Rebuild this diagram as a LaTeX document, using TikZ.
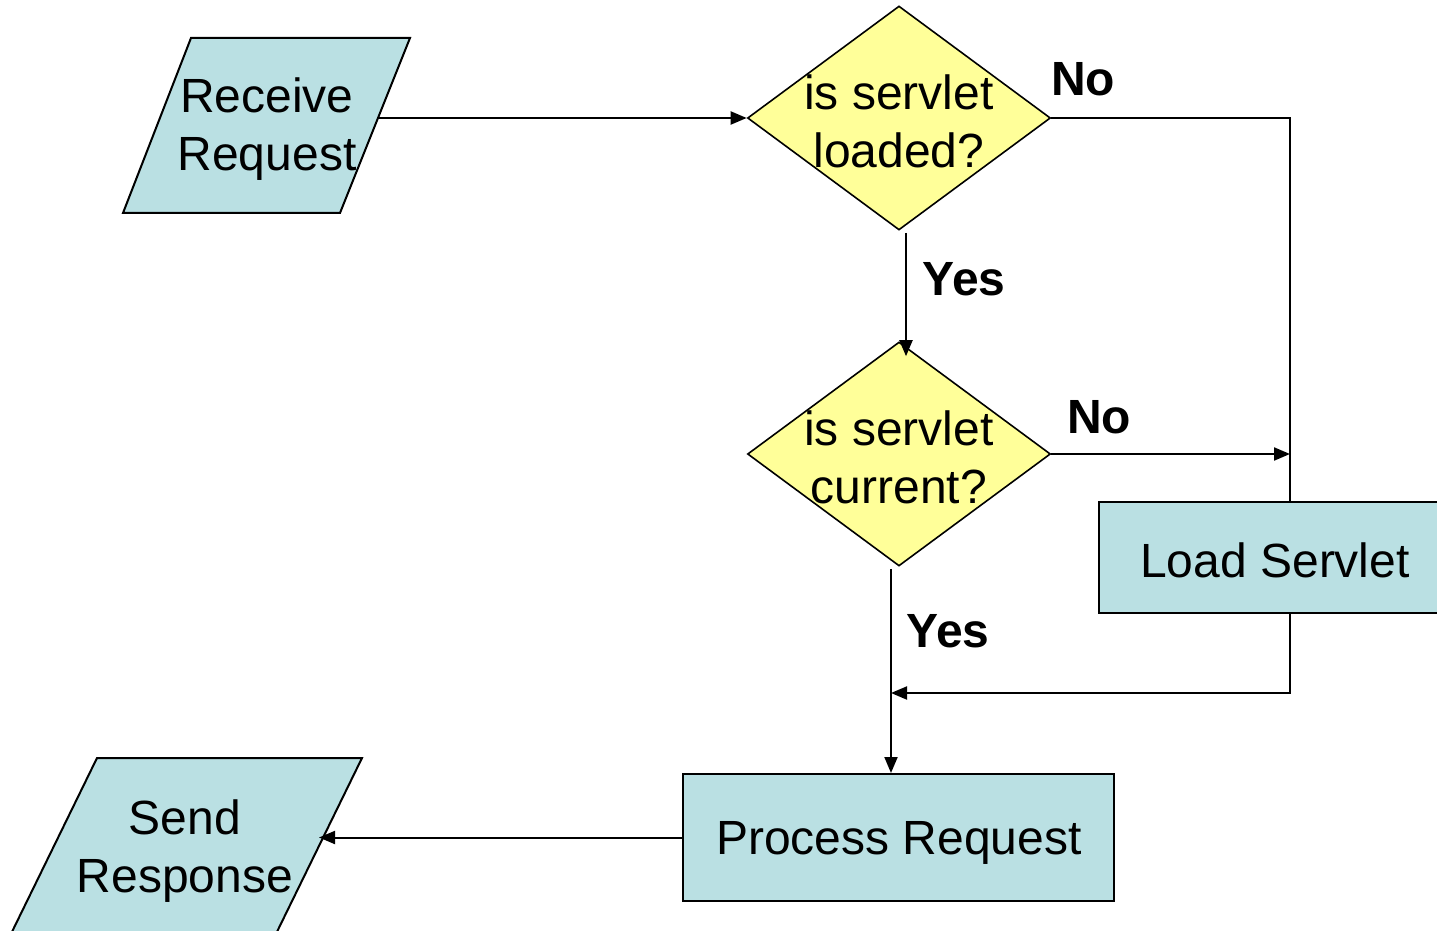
\documentclass[tikz,border=0pt]{standalone}
\usepackage{fontspec}
\setmainfont{Liberation Sans}
\usetikzlibrary{shapes.geometric,arrows.meta,calc}
\definecolor{boxblue}{RGB}{186,224,227}
\definecolor{decyellow}{RGB}{255,255,153}
\begin{document}
\begin{tikzpicture}[x=0.5pt,y=-0.5pt,
  txt/.style={align=center,inner sep=0pt,font=\fontsize{24}{29}\selectfont},
  lbl/.style={inner sep=0pt,font=\fontsize{24}{28}\selectfont\bfseries},
  decbox/.style={diamond,draw=black,line width=0.8pt,fill=decyellow,inner sep=0pt,minimum width=151.5pt,minimum height=112pt},
  procbox/.style={rectangle,draw=black,line width=1pt,fill=boxblue,inner sep=0pt},
  iofill/.style={draw=black,line width=1pt,fill=boxblue},
  conn/.style={line width=1pt},
  arr/.style={conn,-{Triangle[length=8pt,width=6.5pt]}}]
\useasboundingbox (0,0) rectangle (1437,931);
\clip (0,0) rectangle (1437,931);
% input/output parallelograms
\path[iofill] (191,38) -- (410,38) -- (340,213) -- (123,213) -- cycle;
\node[txt] (rr) at (267,129) {Receive\\Request};
\coordinate (rrout) at (378,118);
\path[iofill] (97,758) -- (362,758) -- (273,940) -- (8,940) -- cycle;
\node[txt] (sr) at (185,851) {Send\\Response};
\coordinate (srin) at (319,837.5);
% other shapes
\node[decbox] (d1) at (899,118) {};
\node[txt] at (899,121) {is servlet\\loaded?};
\node[decbox] (d2) at (899,454) {};
\node[txt] at (899,457) {is servlet\\current?};
\node[procbox,minimum width=176pt,minimum height=55.5pt] (ls) at (1275,557.5) {};
\node[txt] at (1275,560) {Load Servlet};
\node[procbox,minimum width=215.5pt,minimum height=63.5pt] (pr) at (898.5,837.5) {};
\node[txt] at (899,843) {Process Request};
% helper coordinates
\coordinate (lx) at (1290,454);
\coordinate (j) at (891,693);
% connectors
\draw[arr] (rrout) -- (d1.west);
\draw[conn] (d1.east) -| (ls.north -| lx);
\draw[arr] (d2.east) -- (lx);
\draw[arr] ($(d1.south)+(7,2)$) -- ($(d2.north)+(7,15)$);
\draw[arr] ($(d2.south)+(-8,2)$) -- (pr.north -| j);
\draw[arr] (ls.south -| lx) |- (j);
\draw[arr] (pr.west) -- (srin);
% labels
\node[lbl] (no1) at (1083,79) {No};
\node[lbl] (no2) at (1099,417) {No};
\node[lbl] (yes1) at (964,279) {Yes};
\node[lbl] (yes2) at (948,631) {Yes};
\end{tikzpicture}
\end{document}
